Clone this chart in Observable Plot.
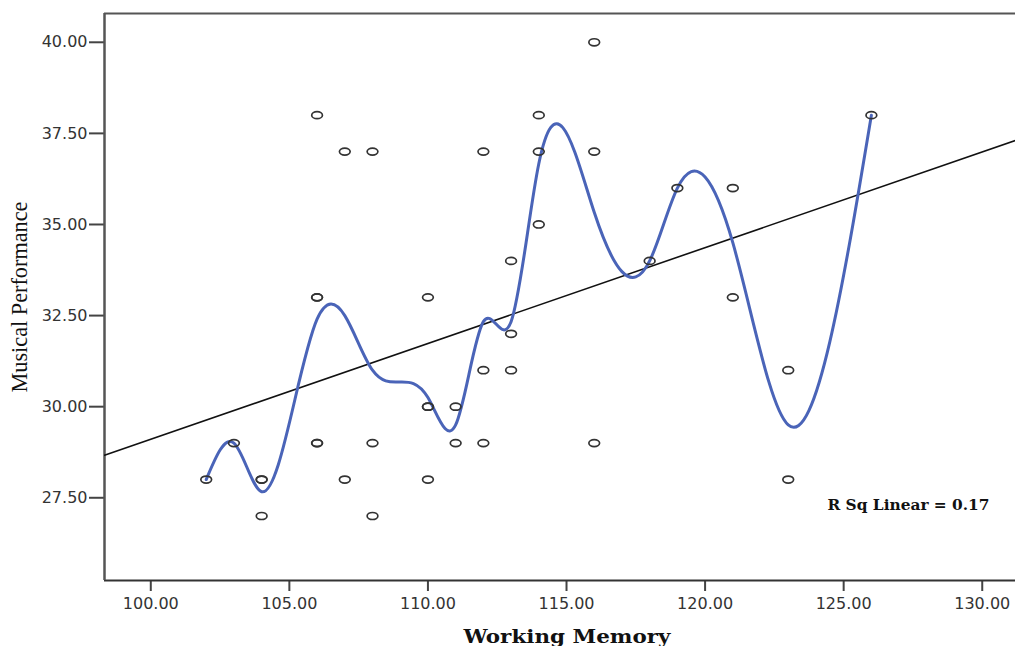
<!DOCTYPE html>
<html>
<head>
<meta charset="utf-8">
<script src="https://cdn.jsdelivr.net/npm/d3@7"></script>
<script src="https://cdn.jsdelivr.net/npm/@observablehq/plot@0.6"></script>
<style>
  html, body { margin: 0; padding: 0; background: #fff; }
  #chart svg g[aria-label*="axis"] path,
  #chart svg g[aria-label*="axis"] line { stroke: #444; stroke-width: 2px; }
</style>
</head>
<body>
<div id="chart"></div>
<script>
// Working Memory (x) and Musical Performance (y) per participant
const workingMemory = [
  102, 103, 104, 104, 104,
  106, 106, 106, 106, 106,
  107, 107, 108, 108, 108,
  110, 110, 110, 110, 111, 111,
  112, 112, 112, 113, 113, 113,
  114, 114, 114, 116, 116, 116,
  118, 119, 121, 121, 123, 123, 126
];
const musicalPerformance = [
  28, 29, 28, 28, 27,
  38, 33, 33, 29, 29,
  37, 28, 37, 29, 27,
  33, 30, 30, 28, 30, 29,
  37, 31, 29, 34, 32, 31,
  38, 37, 35, 40, 37, 29,
  34, 36, 36, 33, 31, 28, 38
];
const xTicks = [100, 105, 110, 115, 120, 125, 130];
const yTicks = [27.5, 30, 32.5, 35, 37.5, 40];
const xDomain = [98.33, 131.2];
const yDomain = [25.23, 40.79];
const xTitle = "Working Memory";
const yTitle = "Musical Performance";

const points = workingMemory.map((x, i) => ({x, y: musicalPerformance[i]}));

// least-squares fit
const mx = d3.mean(points, d => d.x), my = d3.mean(points, d => d.y);
const sxy = d3.sum(points, d => (d.x - mx) * (d.y - my));
const sxx = d3.sum(points, d => (d.x - mx) ** 2);
const syy = d3.sum(points, d => (d.y - my) ** 2);
const slope = sxy / sxx, intercept = my - slope * mx;
const r2 = (sxy * sxy) / (sxx * syy);
const fitLine = xDomain.map(x => ({x, y: intercept + slope * x}));
const rsqLabel = `R Sq Linear = ${r2.toFixed(2)}`;

// natural cubic spline y(x) (SPSS-style spline interpolation), as a d3 curve
function curveNaturalX(context) {
  let xs, ys;
  return {
    areaStart() {}, areaEnd() {},
    lineStart() { xs = []; ys = []; },
    point(x, y) { xs.push(+x); ys.push(+y); },
    lineEnd() {
      const n = xs.length;
      if (!n) return;
      context.moveTo(xs[0], ys[0]);
      if (n === 1) return;
      if (n === 2) { context.lineTo(xs[1], ys[1]); return; }
      const h = [], M = new Array(n).fill(0), a = [], b = [], c = [], d = [];
      for (let i = 0; i < n - 1; i++) h[i] = xs[i + 1] - xs[i];
      for (let i = 1; i < n - 1; i++) {
        a[i] = h[i - 1]; b[i] = 2 * (h[i - 1] + h[i]); c[i] = h[i];
        d[i] = 6 * ((ys[i + 1] - ys[i]) / h[i] - (ys[i] - ys[i - 1]) / h[i - 1]);
      }
      for (let i = 2; i < n - 1; i++) { const w = a[i] / b[i - 1]; b[i] -= w * c[i - 1]; d[i] -= w * d[i - 1]; }
      M[n - 2] = d[n - 2] / b[n - 2];
      for (let i = n - 3; i >= 1; i--) M[i] = (d[i] - c[i] * M[i + 1]) / b[i];
      for (let i = 0; i < n - 1; i++) {
        const s = (ys[i + 1] - ys[i]) / h[i];
        const d0 = s - h[i] * (2 * M[i] + M[i + 1]) / 6;
        const d1 = s + h[i] * (M[i] + 2 * M[i + 1]) / 6;
        context.bezierCurveTo(xs[i] + h[i] / 3, ys[i] + d0 * h[i] / 3,
                              xs[i + 1] - h[i] / 3, ys[i + 1] - d1 * h[i] / 3,
                              xs[i + 1], ys[i + 1]);
      }
    }
  };
}

// open-circle symbol slightly wider than tall (as in the source image)
const ellipse = {
  draw(ctx, size) {
    const r = Math.sqrt(size / Math.PI);
    const rx = r * 1.22, ry = r * 0.8, k = 0.5523;
    ctx.moveTo(rx, 0);
    ctx.bezierCurveTo(rx, ry * k, rx * k, ry, 0, ry);
    ctx.bezierCurveTo(-rx * k, ry, -rx, ry * k, -rx, 0);
    ctx.bezierCurveTo(-rx, -ry * k, -rx * k, -ry, 0, -ry);
    ctx.bezierCurveTo(rx * k, -ry, rx, -ry * k, rx, 0);
    ctx.closePath();
  }
};

const chart = Plot.plot({
  width: 1015,
  height: 646,
  marginLeft: 104,
  marginRight: 0,
  marginTop: 13,
  marginBottom: 66,
  style: {fontFamily: "'DejaVu Sans', sans-serif", fontSize: "16px", color: "#333", background: "#fff"},
  x: {domain: xDomain, ticks: xTicks, tickFormat: d3.format(".2f"), tickSize: 11, tickPadding: 6, label: null},
  y: {domain: yDomain, ticks: yTicks, tickFormat: d3.format(".2f"), tickSize: 15, tickPadding: 2, label: null},
  marks: [
    Plot.ruleY([yDomain[1]], {stroke: "#555", strokeWidth: 2}),
    Plot.ruleY([yDomain[0]], {stroke: "#333", strokeWidth: 2}),
    Plot.ruleX([xDomain[0]], {stroke: "#555", strokeWidth: 2.5}),
    Plot.line(fitLine, {x: "x", y: "y", stroke: "#111", strokeWidth: 1.6, clip: true}),
    Plot.line(points, Plot.groupX({y: "mean"}, {x: "x", y: "y", curve: curveNaturalX, stroke: "#4a64b8", strokeWidth: 3, clip: true})),
    Plot.dot(points, {x: "x", y: "y", r: 4.4, symbol: ellipse, stroke: "#333", strokeWidth: 1.7, fill: "none"}),
    Plot.text([rsqLabel], {frameAnchor: "bottom-right", textAnchor: "end", lineAnchor: "middle", dx: -26, dy: -75,
      fontFamily: "'DejaVu Serif', serif", fontWeight: "bold", fontSize: 14.5, fill: "#111"}),
    Plot.text([xTitle], {frameAnchor: "bottom", lineAnchor: "middle", dx: 7, dy: 57,
      fontFamily: "'DejaVu Serif', serif", fontWeight: "bold", fontSize: 18.5, fill: "#111"}),
    Plot.text([yTitle], {frameAnchor: "left", textAnchor: "middle", lineAnchor: "middle", rotate: -90, dx: -85, dy: 0,
      fontFamily: "'Liberation Serif', serif", fontWeight: "normal", fontSize: 23, fill: "#111"})
  ]
});

// stretch titles to the widths seen in the source image
const widths = {[xTitle]: 207, [yTitle]: 191, [rsqLabel]: 162};
d3.select(chart).selectAll('g[aria-label="text"] text').each(function () {
  const w = widths[this.textContent];
  if (w) { this.setAttribute("textLength", w); this.setAttribute("lengthAdjust", "spacingAndGlyphs"); }
});
document.getElementById("chart").appendChild(chart);
</script>
</body>
</html>
